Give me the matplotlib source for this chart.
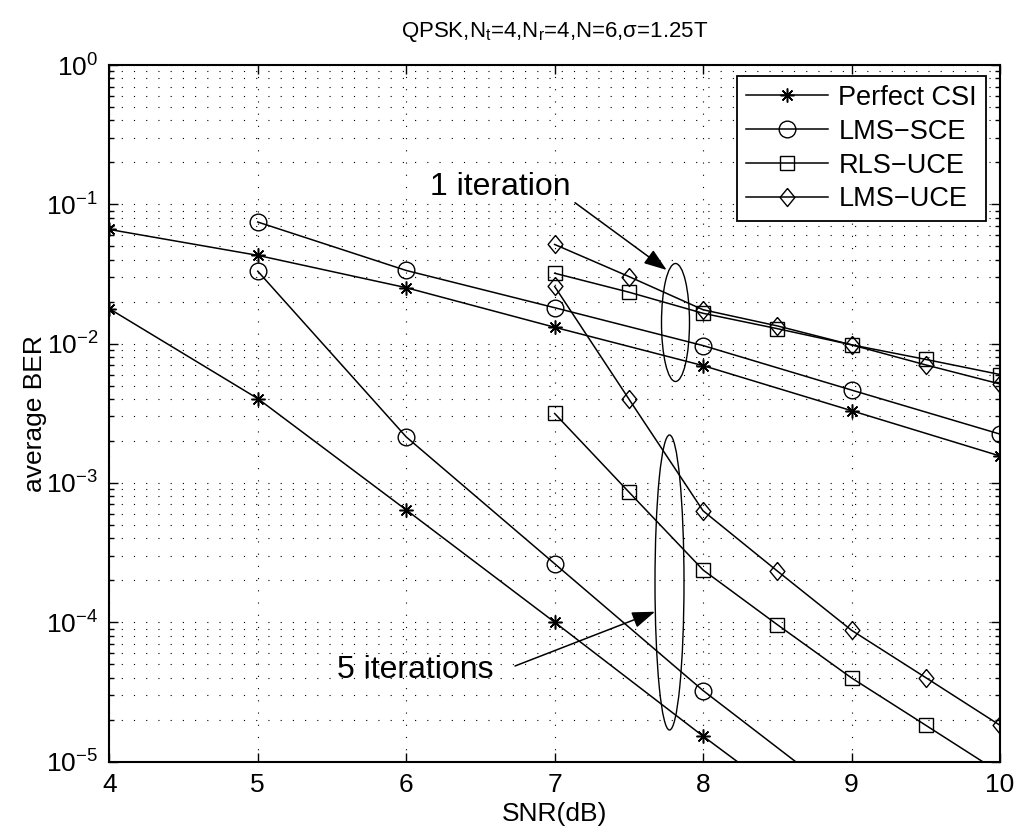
import numpy as np
import matplotlib
matplotlib.use("Agg")
import matplotlib.pyplot as plt
from matplotlib.patches import Ellipse
from matplotlib.ticker import LogLocator, FixedLocator, NullFormatter

plt.rcParams['font.family'] = ['Liberation Sans', 'DejaVu Sans']
plt.rcParams['mathtext.fontset'] = 'custom'
plt.rcParams['mathtext.rm'] = 'Liberation Sans'
plt.rcParams['mathtext.it'] = 'Liberation Sans:italic'
plt.rcParams['mathtext.default'] = 'regular'

# ---------------- data ----------------
snr_int = [4, 5, 6, 7, 8, 9, 10]
snr_sce = [5, 6, 7, 8, 9, 10]
snr_half = [7, 7.5, 8, 8.5, 9, 9.5, 10]

# 1 iteration
perfect_1 = [0.066, 0.043, 0.0252, 0.0131, 0.00695, 0.0033, 0.00156]
lms_sce_1 = [0.0746, 0.0335, 0.0181, 0.00968, 0.00464, 0.00224]
rls_uce_1 = [0.032, 0.0234, 0.0165, 0.0128, 0.0098, 0.0077, 0.0060]
lms_uce_1 = [0.0515, 0.0303, 0.0175, 0.0134, 0.0098, 0.00703, 0.00513]

# 5 iterations
snr_p5 = [4, 5, 6, 7, 8, 9]
perfect_5 = [0.0178, 0.00403, 6.4e-4, 1.0e-4, 1.52e-5, 2.45e-6]
snr_s5 = [5, 6, 7, 8, 9]
lms_sce_5 = [0.0331, 0.00214, 2.63e-4, 3.23e-5, 4.9e-6]
rls_uce_5 = [0.00315, 8.6e-4, 2.37e-4, 9.6e-5, 3.98e-5, 1.82e-5, 8.3e-6]
lms_uce_5 = [0.0257, 0.0040, 6.3e-4, 2.33e-4, 8.75e-5, 4.0e-5, 1.82e-5]

labels = ['Perfect CSI', 'LMS\u2212SCE', 'RLS\u2212UCE', 'LMS\u2212UCE']
title = 'QPSK,N$_{t}$=4,N$_{r}$=4,N=6,\u03c3=1.25T'

# ---------------- figure ----------------
W, H = 1022, 833
fig = plt.figure(figsize=(W / 100, H / 100), dpi=100)
x0, x1, y0, y1 = 109.3, 1000.0, 65.0, 761.5
ax = fig.add_axes([x0 / W, 1 - y1 / H, (x1 - x0) / W, (y1 - y0) / H])

star = (8, 2, 0)
diamond = [(0, 1), (0.82, 0), (0, -1), (-0.82, 0), (0, 1)]
styles = [
    dict(marker=star, ms=10, mew=1.1),
    dict(marker='o', ms=12, mfc='none', mew=1.0),
    dict(marker='s', ms=9.5, mfc='none', mew=1.0),
    dict(marker=diamond, ms=13, mfc='none', mew=1.0),
]
lw = 1.1
h1, = ax.plot(snr_int, perfect_1, color='k', lw=lw, **styles[0])
h2, = ax.plot(snr_sce, lms_sce_1, color='k', lw=lw, **styles[1])
h3, = ax.plot(snr_half, rls_uce_1, color='k', lw=lw, **styles[2])
h4, = ax.plot(snr_half, lms_uce_1, color='k', lw=lw, **styles[3])
ax.plot(snr_p5, perfect_5, color='k', lw=lw, **styles[0])
ax.plot(snr_s5, lms_sce_5, color='k', lw=lw, **styles[1])
ax.plot(snr_half, rls_uce_5, color='k', lw=lw, **styles[2])
ax.plot(snr_half, lms_uce_5, color='k', lw=lw, **styles[3])

ax.set_yscale('log')
ax.set_xlim(4, 10)
ax.set_ylim(1e-5, 1)
ax.xaxis.set_major_locator(FixedLocator(snr_int))
ax.yaxis.set_major_locator(LogLocator(base=10, numticks=10))
ax.yaxis.set_minor_locator(LogLocator(base=10, subs=np.arange(2, 10), numticks=20))
ax.yaxis.set_minor_formatter(NullFormatter())

ax.tick_params(which='both', direction='in', top=True, right=True,
               labelsize=19, width=1.0, color='k')
ax.tick_params(which='major', length=6.5, pad=8)
ax.tick_params(which='minor', length=3.6)
for s in ax.spines.values():
    s.set_linewidth(1.5)

dot = (0, (1, 10))
ax.grid(which='major', axis='both', color='k', ls=dot, lw=0.8)
ax.grid(which='minor', axis='y', color='k', ls=dot, lw=0.8)

ax.set_xlabel('SNR(dB)', fontsize=19, labelpad=4)
ax.set_ylabel('average BER', fontsize=19, labelpad=-1)
ax.set_title(title, fontsize=16, pad=20)

leg = ax.legend([h1, h2, h3, h4], labels, loc='upper right',
                bbox_to_anchor=((986 - x0) / (x1 - x0), (y1 - 76) / (y1 - y0)),
                fontsize=19.5, frameon=True, fancybox=False, framealpha=1,
                edgecolor='k', handlelength=3.0, handletextpad=0.4,
                labelspacing=0.29, borderpad=0.33, borderaxespad=0)
leg.get_frame().set_linewidth(1.3)

# annotations (axes-fraction coordinates)
def fx(px):
    return (px - x0) / (x1 - x0)

def fy(py):
    return (y1 - py) / (y1 - y0)

ax.add_patch(Ellipse((fx(675.5), fy(322.5)), 28 / (x1 - x0), 118 / (y1 - y0),
                     transform=ax.transAxes, fill=False, ec='k', lw=1.0, zorder=5))
ax.add_patch(Ellipse((fx(669.5), fy(582.5)), 29 / (x1 - x0), 295 / (y1 - y0),
                     transform=ax.transAxes, fill=False, ec='k', lw=1.0, zorder=5))

arrowprops = dict(arrowstyle='-|>,head_length=1.4,head_width=0.5', color='k',
                  lw=1.1, shrinkA=0, shrinkB=0)
ax.annotate('', xy=(fx(666.7), fy(270)), xytext=(fx(575), fy(202.7)),
            xycoords='axes fraction', textcoords='axes fraction',
            arrowprops=arrowprops, zorder=6)
ax.annotate('', xy=(fx(655), fy(611.7)), xytext=(fx(515), fy(666)),
            xycoords='axes fraction', textcoords='axes fraction',
            arrowprops=arrowprops, zorder=6)

ax.text(fx(430), fy(195), '1 iteration', transform=ax.transAxes,
        fontsize=23, ha='left', va='baseline', zorder=6)
ax.text(fx(337), fy(678), '5 iterations', transform=ax.transAxes,
        fontsize=23, ha='left', va='baseline', zorder=6)

fig.savefig('out.png', dpi=100)
